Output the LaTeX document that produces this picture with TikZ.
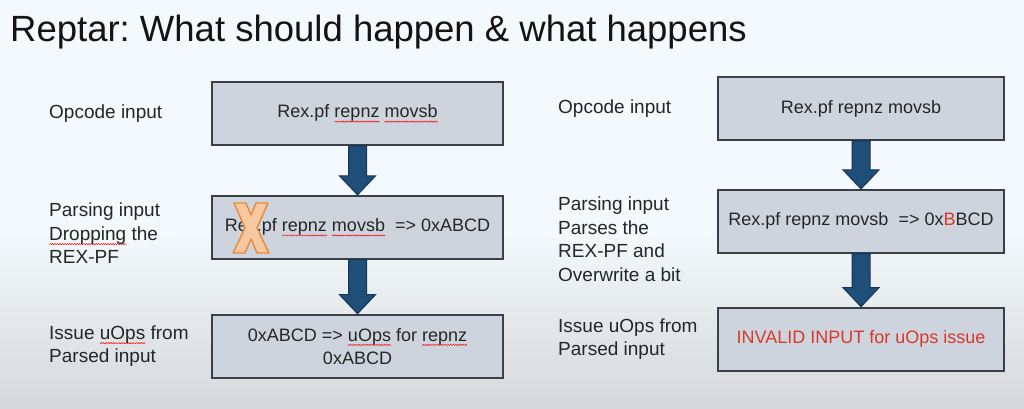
\documentclass[tikz,border=0pt]{standalone}
\usepackage{fontspec}
\setmainfont{Liberation Sans}
\usetikzlibrary{calc,positioning}
\frenchspacing
\definecolor{bgtop}{HTML}{F3F9FC}
\definecolor{bgbot}{HTML}{D6D8DA}
\definecolor{boxfill}{HTML}{CED4DE}
\definecolor{boxline}{HTML}{3B4048}
\definecolor{arrowblue}{HTML}{1F4E79}
\definecolor{arrowline}{HTML}{17365A}
\definecolor{errred}{HTML}{D8392B}
\definecolor{xfill}{HTML}{F8C8A0}
\definecolor{xline}{HTML}{E8893A}
\definecolor{labeltext}{HTML}{262626}
\newsavebox\wavebox
\savebox\wavebox{\tikz[x=1pt,y=1pt]{\useasboundingbox (0,0) rectangle (2.4,1.2); \draw[red, line width=0.5pt] (0,0) -- (1.2,1.2) -- (2.4,0);}}
\newsavebox\wordbox
\def\squig#1{\sbox\wordbox{#1}\rlap{\raisebox{-4.5pt}{\hbox to \wd\wordbox{\xleaders\copy\wavebox\hfill}}}\usebox\wordbox}
\def\flowarrow(#1)(#2){\draw[fill=arrowblue, draw=arrowline, line width=1pt] ($(#1.south)+(-9,0)$) -- ($(#2.north)+(-9,-19)$) -- ($(#2.north)+(-18,-19)$) -- (#2.north) -- ($(#2.north)+(18,-19)$) -- ($(#2.north)+(9,-19)$) -- ($(#1.south)+(9,0)$) -- cycle;}
\tikzset{
  stagebox/.style={draw=boxline, fill=boxfill, line width=1.8pt, minimum width=291pt, minimum height=63pt, inner sep=0pt, align=center, text=labeltext, font=\fontsize{18}{23}\selectfont},
  stagelabel/.style={anchor=west, align=left, inner sep=0pt, text=labeltext, font=\fontsize{19}{23.5}\selectfont}
}

\begin{document}
\begin{tikzpicture}[x=1pt, y=-1pt]
				\fill[bgtop] (0,0) rectangle (1024,409);
				\shade[top color=bgtop, bottom color=bgbot] (0,230) rectangle (1024,409);
				\useasboundingbox (0,0) rectangle (1024,409);
				
				\node[anchor=base west, inner sep=0pt, text=black!92, font=\fontsize{36.5}{40}\selectfont] (title) at (10,42) {Reptar: What should happen \& what happens};
				
				% what should happen
				\node[stagebox] (lop) at (357.5,113.5) {Rex.pf \squig{repnz} \squig{movsb}};
				\node[stagebox, below=49pt of lop] (lparse) {Rex.pf \squig{repnz} \squig{movsb}\ \ => 0xABCD};
				\node[stagebox, below=54pt of lparse] (luops) {0xABCD => \squig{uOps} for \squig{repnz}\\0xABCD};
				\flowarrow(lop)(lparse)
				\flowarrow(lparse)(luops)
				
				\begin{scope}[shift={(251,228)}]
					\draw[fill=xfill, draw=xline, line width=1.4pt, line join=round] (-17,-25) -- (-5,-25) -- (0,-13) -- (5,-25) -- (17,-25) -- (6,0) -- (18,25) -- (6,25) -- (0,11) -- (-6,25) -- (-18,25) -- (-6,0) -- cycle;
				\end{scope}
				
				\coordinate (lx) at (49,0);
				\node[stagelabel] (lopl) at (lx |- lop) {Opcode input};
				\node[stagelabel, yshift=-6pt] (lparsel) at (lx |- lparse) {Parsing input\\\squig{Dropping} the\\REX-PF};
				\node[stagelabel] (luopsl) at (lx |- luops) {Issue \squig{uOps} from\\Parsed input};
				
				% what happens
				\node[stagebox, minimum width=286pt] (rop) at (861,108.5) {Rex.pf repnz movsb};
				\node[stagebox, minimum width=286pt, below=48pt of rop] (rparse) {Rex.pf repnz movsb\ \ => 0x\textcolor{errred}{B}BCD};
				\node[stagebox, minimum width=286pt, below=53pt of rparse, text=errred] (ruops) {INVALID INPUT for uOps issue};
				\flowarrow(rop)(rparse)
				\flowarrow(rparse)(ruops)
				
				\coordinate (rx) at (558,0);
				\node[stagelabel] (ropl) at (rx |- rop) {Opcode input};
				\node[stagelabel, yshift=-18pt] (rparsel) at (rx |- rparse) {Parsing input\\Parses the\\REX-PF and\\Overwrite a bit};
				\node[stagelabel] (ruopsl) at (rx |- ruops) {Issue uOps from\\Parsed input};
\end{tikzpicture}
\end{document}
